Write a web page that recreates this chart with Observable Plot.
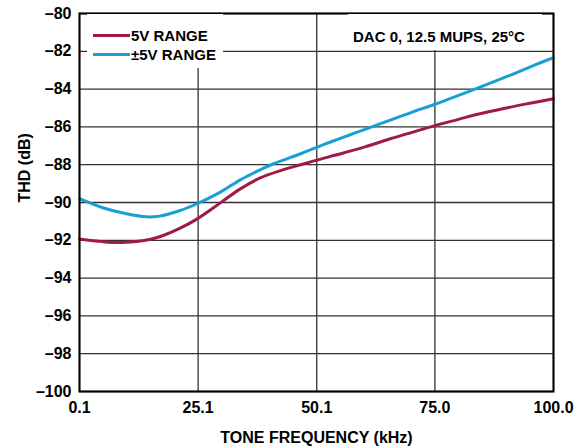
<!DOCTYPE html>
<html><head><meta charset="utf-8">
<script src="https://cdn.jsdelivr.net/npm/d3@7"></script>
<script src="https://cdn.jsdelivr.net/npm/@observablehq/plot@0.6"></script>
<style>
body{margin:0;background:#fff;font-family:"Liberation Sans",Arial,sans-serif;}
#wrap{position:relative;width:583px;height:446px;}
.box{position:absolute;background:#fff;}
.lbl{position:absolute;font-weight:bold;font-size:15px;line-height:15px;color:#000;white-space:nowrap;}
.sw{position:absolute;height:3px;}
</style></head><body><div id="wrap"></div>
<script>
// Data
const seriesNames = ["5V RANGE", "\u00B15V RANGE"];
const seriesColors = ["#9e1b47", "#16a0d4"];
const annotation = "DAC 0, 12.5 MUPS, 25\u00B0C";
const xTitle = "TONE FREQUENCY (kHz)";
const yTitle = "THD (dB)";

const freq5V = [0.1, 5, 9, 13, 15.1, 17.6, 21, 25.1, 29.8, 34, 38.2, 42.5, 46.7, 50.1, 53, 55, 60.1, 65.6, 70, 75, 80, 84, 90, 95, 100];
const thd5V  = [-91.93, -92.07, -92.12, -92.04, -91.94, -91.76, -91.4, -90.84, -90.02, -89.28, -88.7, -88.31, -88.0, -87.76, -87.56, -87.43, -87.07, -86.63, -86.3, -85.93, -85.6, -85.33, -85.0, -84.75, -84.51];

const freqPM5V = [0.1, 5, 10, 14.2, 17, 21, 25.1, 29.8, 34, 38.2, 41, 46.7, 50.1, 53, 57, 61, 65.6, 70, 75, 80, 84, 88, 92, 96, 100];
const thdPM5V  = [-89.8, -90.28, -90.6, -90.76, -90.72, -90.45, -90.04, -89.45, -88.8, -88.27, -87.95, -87.42, -87.08, -86.8, -86.43, -86.06, -85.64, -85.24, -84.8, -84.33, -83.95, -83.55, -83.15, -82.73, -82.33];

const xTicks = [0.1, 25.1, 50.1, 75.0, 100.0];
const xTickLabels = ["0.1", "25.1", "50.1", "75.0", "100.0"];
const yTicks = [-100, -98, -96, -94, -92, -90, -88, -86, -84, -82, -80];

const rows5V = freq5V.map((f, i) => ({f, v: thd5V[i]}));
const rowsPM = freqPM5V.map((f, i) => ({f, v: thdPM5V[i]}));

const chart = Plot.plot({
  width: 583, height: 446,
  marginLeft: 79, marginRight: 30, marginTop: 13, marginBottom: 55,
  style: {fontFamily: "'Liberation Sans', Arial, sans-serif", fontSize: "16px", fontWeight: "bold", color: "#000", background: "#fff"},
  x: {domain: [0.1, 100]},
  y: {domain: [-100, -80]},
  marks: [
    Plot.gridX(xTicks, {stroke: "#333", strokeOpacity: 1, strokeWidth: 1.3}),
    Plot.gridY(yTicks, {stroke: "#333", strokeOpacity: 1, strokeWidth: 1.3}),
    Plot.line(rows5V, {x: "f", y: "v", stroke: seriesColors[0], strokeWidth: 3, curve: "catmull-rom"}),
    Plot.line(rowsPM, {x: "f", y: "v", stroke: seriesColors[1], strokeWidth: 3, curve: "catmull-rom"}),
    Plot.frame({stroke: "#000", strokeWidth: 2}),
    Plot.axisX(xTicks, {tickSize: 0, tickPadding: 10, tickFormat: d => xTickLabels[xTicks.indexOf(d)], label: null, fill: "#000"}),
    Plot.axisY(yTicks, {tickSize: 0, tickPadding: 8, tickFormat: d => "\u2013" + Math.abs(d), label: null, fill: "#000"}),
    Plot.text([xTitle], {frameAnchor: "bottom", lineAnchor: "bottom", dy: 51, fill: "#000"}),
    Plot.text([yTitle], {frameAnchor: "left", rotate: -90, dx: -55, fill: "#000"})
  ]
});

const wrap = document.getElementById("wrap");
wrap.appendChild(chart);

function add(cls, style, text) {
  const el = document.createElement("div");
  el.className = cls;
  Object.assign(el.style, style);
  if (text) el.textContent = text;
  wrap.appendChild(el);
}
// legend box
add("box", {left: "87px", top: "14px", width: "136px", height: "54px"});
add("sw", {left: "93px", top: "33.5px", width: "37px", background: seriesColors[0]});
add("sw", {left: "93px", top: "52.5px", width: "37px", background: seriesColors[1]});
add("lbl", {left: "131px", top: "28.2px"}, seriesNames[0]);
add("lbl", {left: "131px", top: "46.8px"}, seriesNames[1]);
// annotation box
add("box", {left: "348px", top: "14px", width: "194px", height: "36px"});
add("lbl", {left: "353px", top: "29.2px"}, annotation);
</script>
</body></html>
